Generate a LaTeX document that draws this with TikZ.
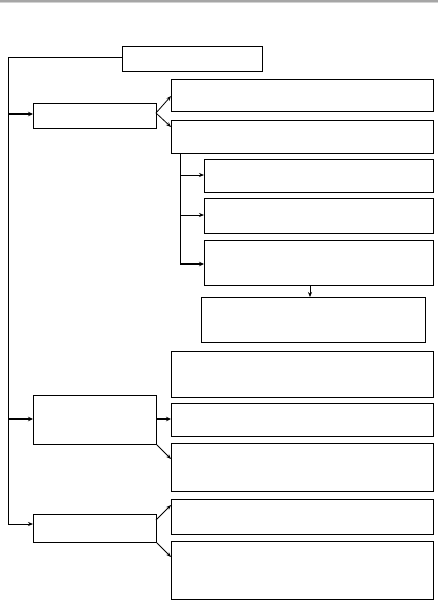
\documentclass[tikz,border=0pt]{standalone}
\usetikzlibrary{arrows.meta}
\begin{document}
\begin{tikzpicture}[x=1pt,y=-1pt,
  box/.style={draw, line width=0.8pt, rectangle, inner sep=0pt, anchor=north west},
  conn/.style={line width=0.8pt},
  arr/.style={line width=0.8pt, -{Stealth[length=5pt,width=4pt]}},
  thickarr/.style={line width=1.5pt, -{Stealth[length=5pt,width=4.5pt]}}]
\useasboundingbox (0,0) rectangle (438,600);
\fill[gray!70] (0,0) rectangle (438,2);
\fill[gray!35] (0,2) rectangle (438,3);
% boxes
\node[box, minimum width=140pt, minimum height=25pt] (top) at (122,46) {};
\node[box, minimum width=123pt, minimum height=25pt] (a1) at (33,103) {};
\node[box, minimum width=262pt, minimum height=32pt] (r1) at (171,79) {};
\node[box, minimum width=262pt, minimum height=33pt] (r2) at (171,120) {};
\node[box, minimum width=229pt, minimum height=33pt] (s1) at (204,159) {};
\node[box, minimum width=229pt, minimum height=35pt] (s2) at (204,198) {};
\node[box, minimum width=229pt, minimum height=45pt] (s3) at (204,240) {};
\node[box, minimum width=224pt, minimum height=45pt] (s4) at (201,297) {};
\node[box, minimum width=262pt, minimum height=46pt] (r3) at (171,351) {};
\node[box, minimum width=123pt, minimum height=49pt] (a2) at (33,395) {};
\node[box, minimum width=262pt, minimum height=33pt] (r4) at (171,403) {};
\node[box, minimum width=262pt, minimum height=48pt] (r5) at (171,443) {};
\node[box, minimum width=123pt, minimum height=28pt] (a3) at (33,514) {};
\node[box, minimum width=262pt, minimum height=35pt] (r6) at (171,499) {};
\node[box, minimum width=262pt, minimum height=58pt] (r7) at (171,541) {};
% coordinates
\coordinate (lt) at (8,57);
\coordinate (lb) at (8,524);
\coordinate (b1) at (8,114);
\coordinate (b2) at (8,419);
\coordinate (v1) at (180,153);
\coordinate (v2) at (180,264);
% main left line
\draw[conn] (top.west |- lt) -- (lt) -- (lb);
\draw[arr] (lb) -- (a3.west |- lb);
\draw[thickarr] (b1) -- (a1.west |- b1);
\draw[thickarr] (b2) -- (a2.west |- b2);
% a1 branches
\draw[arr] (156,113) -- (r1.west |- 0,96);
\draw[arr] (156,113) -- (r2.west |- 0,127);
% sub tree
\draw[conn] (v1) -- (v2);
\draw[arr] (v1 |- 0,175) -- (s1.west |- 0,175);
\draw[arr] (v1 |- 0,215) -- (s2.west |- 0,215);
\draw[thickarr] (v2) -- (s3.west |- v2);
\draw[arr] (s3.south -| 310,0) -- (s4.north -| 310,0);
% a2 branches
\draw[thickarr] (a2.east |- 0,419) -- (r4.west |- 0,419);
\draw[arr] (a2.south east) -- (r5.west |- 0,459);
% a3 branches
\draw[arr] (156,520) -- (r6.west |- 0,505);
\draw[arr] (a3.south east) -- (r7.west |- 0,557);
\end{tikzpicture}
\end{document}
